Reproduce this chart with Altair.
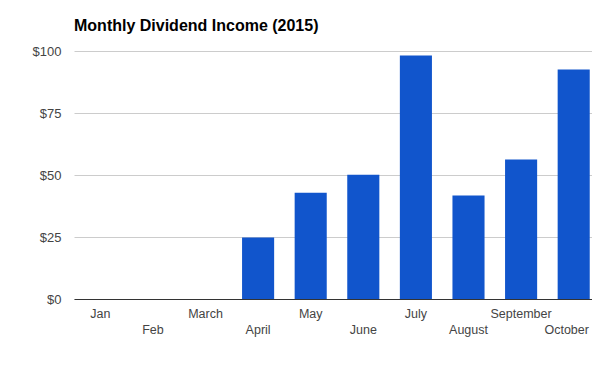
import altair as alt
import pandas as pd

months = ["Jan", "Feb", "March", "April", "May", "June", "July",
          "August", "September", "October"]
income = [0, 0, 0, 24.8, 42.8, 50.1, 98.2, 41.7, 56.3, 92.5]
y_ticks = [0, 25, 50, 75, 100]
second_row = ["Feb", "April", "June", "August", "October"]

df = pd.DataFrame({"month": months, "income": income})

FONT = "Liberation Sans, Arial, sans-serif"
row2 = "[" + ",".join(f"'{m}'" for m in second_row) + "]"

chart = alt.Chart(df).mark_bar(color="#1155CC").encode(
    x=alt.X("month:N", sort=months,
            scale=alt.Scale(paddingInner=0.39, paddingOuter=0.195, range=[0, 526]),
            axis=alt.Axis(title=None, labelAngle=0, ticks=False, grid=False,
                          domainColor="#333333", domainWidth=1,
                          labelPadding=8, labelFontSize=12.5, labelColor="#444444",
                          labelFont=FONT, labelLineHeight=16.5, labelBaseline="top",
                          labelOffset={"condition": {"test": "datum.value == 'October'",
                                                     "value": -7},
                                       "value": 0},
                          labelExpr=f"indexof({row2}, datum.value) >= 0 ? ['', datum.label] : datum.label")),
    y=alt.Y("income:Q",
            scale=alt.Scale(domain=[0, 100], nice=False),
            axis=alt.Axis(title=None, values=y_ticks, domain=False, ticks=False,
                          gridColor="#cccccc", gridWidth=1,
                          labelPadding=13, labelFontSize=13, labelColor="#444444",
                          labelFont=FONT, labelExpr="'$' + datum.value")),
).properties(
    width=518,
    height=248,
    title=alt.TitleParams("Monthly Dividend Income (2015)", anchor="start",
                          frame="group", font=FONT, fontSize=16, fontWeight="bold",
                          color="#000000", offset=3, dy=-8),
    autosize=alt.AutoSizeParams(type="none"),
    padding={"left": 66, "top": 43, "right": 0, "bottom": 60},
).configure_view(stroke=None)

chart.save("out.html", embed_options={"renderer": "svg", "actions": False})
